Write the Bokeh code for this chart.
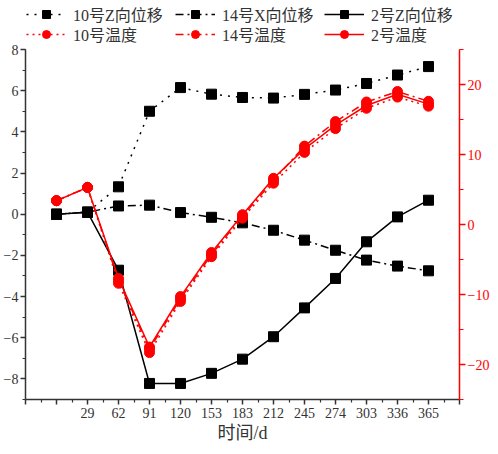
from bokeh.plotting import figure
from bokeh.models import Range1d, LinearAxis, FixedTicker, Legend, LegendItem
from bokeh.embed import file_html
from bokeh.resources import INLINE

# ---- data ----
day_labels = ["", "29", "62", "91", "120", "153", "183", "212", "245", "274", "303", "336", "365"]
z10 = [0.0, 0.1, 1.33, 5.0, 6.15, 5.83, 5.67, 5.64, 5.82, 6.03, 6.35, 6.76, 7.17]
x14 = [0.0, 0.1, 0.4, 0.44, 0.08, -0.15, -0.42, -0.78, -1.26, -1.75, -2.23, -2.52, -2.75]
z2 = [0.0, 0.1, -2.72, -8.22, -8.22, -7.73, -7.04, -5.95, -4.55, -3.12, -1.34, -0.13, 0.68]
t10 = [3.4, 5.3, -8.4, -18.3, -11.0, -4.6, 0.9, 5.9, 10.3, 13.7, 16.6, 18.2, 16.9]
t14 = [3.4, 5.3, -8.0, -17.8, -10.6, -4.3, 1.2, 6.3, 11.2, 14.7, 17.5, 19.0, 17.6]
t2 = [3.4, 5.3, -7.7, -17.5, -10.3, -4.0, 1.4, 6.6, 10.8, 14.2, 17.0, 18.6, 17.2]

xs = list(range(1, len(day_labels) + 1))

FONT = "'Liberation Serif', 'Noto Sans CJK SC'"
AX = "#333333"
RED = "#ff0000"

# axis extents; the range top is extended to leave room for the legend
L_LO, L_HI, L_TOP = -9, 8, 10.38
R_LO, R_HI = -25, 25
R_TOP = R_LO + (R_HI - R_LO) * (L_TOP - L_LO) / (L_HI - L_LO)

FW, FH = 434, 399
p = figure(frame_width=FW, frame_height=FH, output_backend="svg", toolbar_location=None,
           x_range=Range1d(0, len(day_labels) + 1), y_range=Range1d(L_LO, L_TOP),
           min_border_left=0, min_border_right=0, min_border_top=0, min_border_bottom=0,
           x_axis_location=None, y_axis_location=None)
p.outline_line_color = None
p.xgrid.grid_line_color = None
p.ygrid.grid_line_color = None
p.extra_y_ranges = {"temp": Range1d(R_LO, R_TOP)}

def style(ax, color):
    ax.axis_line_color = color
    ax.major_tick_line_color = color
    ax.minor_tick_line_color = color
    ax.major_label_text_color = color
    ax.major_label_text_font = FONT
    ax.major_label_text_font_size = "14px"
    ax.axis_line_width = 1.5
    ax.major_tick_line_width = 1.5
    ax.minor_tick_line_width = 1.2
    ax.major_tick_in = 0
    ax.major_tick_out = 5
    ax.minor_tick_in = 0
    ax.minor_tick_out = 3
    ax.major_label_standoff = 3

# bottom axis
xticks = list(range(0, len(day_labels) + 2))
bx = LinearAxis(ticker=FixedTicker(ticks=xticks, minor_ticks=[t + 0.5 for t in xticks[:-1]]))
style(bx, AX)
bx.major_label_overrides = {t: "" for t in xticks}
for i, lab in enumerate(day_labels):
    bx.major_label_overrides[xs[i]] = lab
bx.axis_label = "时间/d"
bx.axis_label_text_font = FONT
bx.axis_label_text_font_size = "18px"
bx.axis_label_text_font_style = "normal"
bx.axis_label_text_color = AX
bx.axis_label_standoff = 2
p.add_layout(bx, "below")

# left axis
ly = LinearAxis(bounds=(L_LO, L_HI),
                ticker=FixedTicker(ticks=list(range(-8, 9, 2)), minor_ticks=list(range(-9, 9, 1))))
style(ly, AX)
ly.major_label_standoff = 2
p.add_layout(ly, "left")

# right axis
ry = LinearAxis(y_range_name="temp", bounds=(R_LO, R_HI),
                ticker=FixedTicker(ticks=[-20, -10, 0, 10, 20], minor_ticks=list(range(-25, 26, 5))))
style(ry, RED)
ry.major_tick_out = 6
ry.minor_tick_out = 4
ry.major_label_standoff = 2
p.add_layout(ry, "right")

# displacement series
r_z10 = [p.line(xs, z10, line_color="black", line_width=1.5, line_dash="2 6"),
         p.scatter(xs, z10, marker="square", size=10, color="black")]
r_x14 = [p.line(xs, x14, line_color="black", line_width=1.5, line_dash="8 4 2 4"),
         p.scatter(xs, x14, marker="square", size=10, color="black")]
r_z2 = [p.line(xs, z2, line_color="black", line_width=1.5),
        p.scatter(xs, z2, marker="square", size=10, color="black")]

# temperature series
r_t10 = [p.line(xs, t10, line_color=RED, line_width=1.5, line_dash="2 4", y_range_name="temp"),
         p.scatter(xs, t10, marker="circle", size=10, color=RED, y_range_name="temp")]
r_t14 = [p.line(xs, t14, line_color=RED, line_width=1.5, line_dash="8 4 2 4", y_range_name="temp"),
         p.scatter(xs, t14, marker="circle", size=10, color=RED, y_range_name="temp")]
r_t2 = [p.line(xs, t2, line_color=RED, line_width=1.5, y_range_name="temp"),
        p.scatter(xs, t2, marker="circle", size=10, color=RED, y_range_name="temp")]

def make_legend(items, loc):
    return Legend(items=[LegendItem(label=l, renderers=r) for l, r in items],
                  orientation="horizontal", location=loc,
                  padding=0, margin=0, spacing=6, label_standoff=7,
                  glyph_width=40, glyph_height=20, label_height=20, label_width=96,
                  border_line_color=None, background_fill_alpha=0,
                  label_text_font=FONT, label_text_font_size="16px", label_text_color=AX)

leg_blk = make_legend([("10号Z向位移", r_z10), ("14号X向位移", r_x14), ("2号Z向位移", r_z2)], (1, FH - 26))
leg_red = make_legend([("10号温度", r_t10), ("14号温度", r_t14), ("2号温度", r_t2)], (1, FH - 46))
p.add_layout(leg_blk)
p.add_layout(leg_red)

open("out.html", "w").write(file_html(p, INLINE))
